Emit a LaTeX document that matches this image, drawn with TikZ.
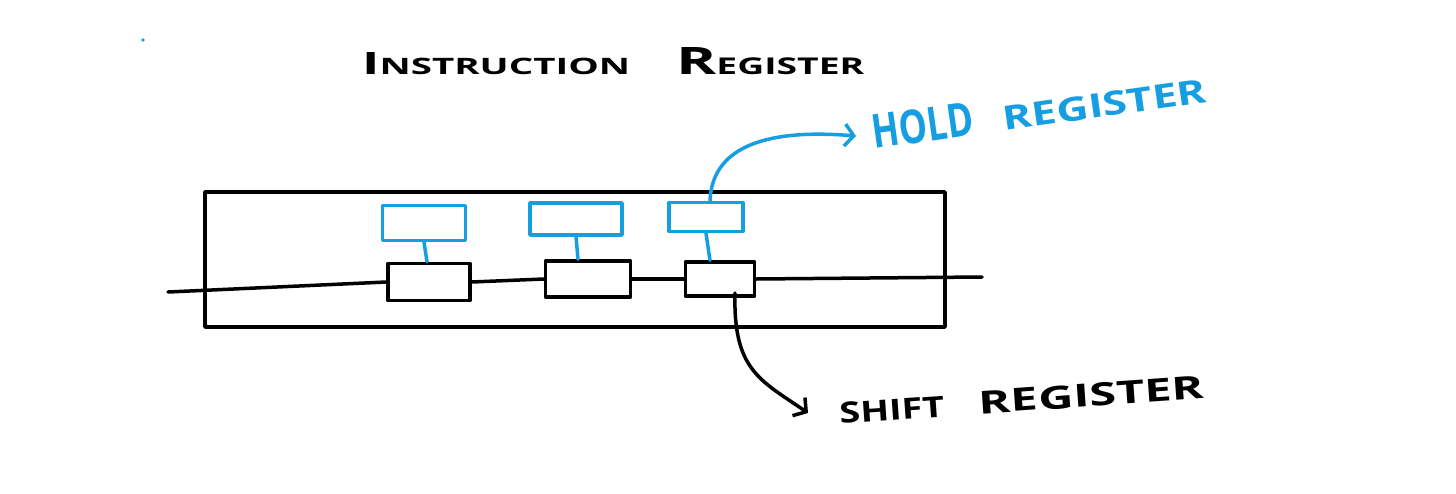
\documentclass[tikz,border=0pt]{standalone}
\usepackage{fontspec}
\setmainfont{Open Sans}
\usepackage{graphicx}
\usetikzlibrary{arrows.meta}
\definecolor{hblue}{RGB}{22,158,226}
\newcommand{\hw}[3]{\resizebox{#1}{#2}{#3}}
\begin{document}
\begin{tikzpicture}[x=1pt,y=-1pt,
  ink/.style={line width=3.5pt, line cap=round, line join=round, draw=black},
  bink/.style={line width=3.5pt, line cap=round, line join=round, draw=hblue},
  shreg/.style={ink, rectangle, inner sep=0pt},
  hreg/.style={bink, rectangle, inner sep=0pt},
  lbl/.style={anchor=base west, inner sep=0pt, font=\bfseries},
  barb/.style={-{Straight Barb[length=9pt,width=22pt,line width=3.5pt]}}
]
\useasboundingbox (0,0) rectangle (1456,493);
% outer register frame
\node[ink, rectangle, minimum width=740pt, minimum height=135pt] (ir) at (575,259.5) {};
% shift register cells
\node[shreg, minimum width=82pt, minimum height=37pt] (s1) at (429,282) {};
\node[shreg, minimum width=85pt, minimum height=36pt] (s2) at (588,279) {};
\node[shreg, minimum width=69pt, minimum height=34pt] (s3) at (720,279) {};
% hold register cells
\node[hreg, minimum width=83pt, minimum height=35pt] (h1) at (424,223) {};
\node[hreg, minimum width=92pt, minimum height=32pt] (h2) at (576,219) {};
\node[hreg, minimum width=74pt, minimum height=29pt] (h3) at (706,217) {};
% serial line
\coordinate (in) at (168,292);
\coordinate (out) at (982,277);
\draw[ink] (in) -- (s1.west);
\draw[ink] (s1.east) -- (s2.west);
\draw[ink] (s2.east) -- (s3.west);
\draw[ink] (s3.east) -- (out);
% hold-to-shift links
\draw[bink] (h1.south) -- ([xshift=-2pt]s1.north);
\draw[bink] (h2.south) -- ([xshift=-10pt]s2.north);
\draw[bink] (h3.south) -- ([xshift=-10pt]s3.north);
% labels
\node[lbl] (title) at (362,74) {\hw{268pt}{22pt}{{\fontsize{30}{30}\selectfont I}{\fontsize{22}{22}\selectfont NSTRUCTION}}\hspace{46pt}\hw{188pt}{27pt}{{\fontsize{36}{36}\selectfont R}{\fontsize{22}{22}\selectfont EGISTER}}};
\node[lbl, rotate=8, text=hblue] (hold) at (874,149) {\hw{102pt}{34pt}{HOLD}\hspace{30pt}\hw{205pt}{24pt}{REGISTER}};
\node[lbl, rotate=4] (shift) at (840,424) {\hw{105pt}{21pt}{SHIFT}\hspace{35pt}\hw{225pt}{23pt}{REGISTER}};
% arrows
\coordinate (holdtip) at (856,136);
\draw[bink, barb] ([xshift=4pt]h3.north) .. controls (712,150) and (760,128) .. (holdtip);
\coordinate (sstart) at (735,293);
\coordinate (shifttip) at (808,413);
\draw[ink, barb] (sstart) .. controls (733,370) and (760,380) .. (shifttip);
% stray dot
\fill[hblue] (143,40) circle (1.8pt);
\end{tikzpicture}
\end{document}
